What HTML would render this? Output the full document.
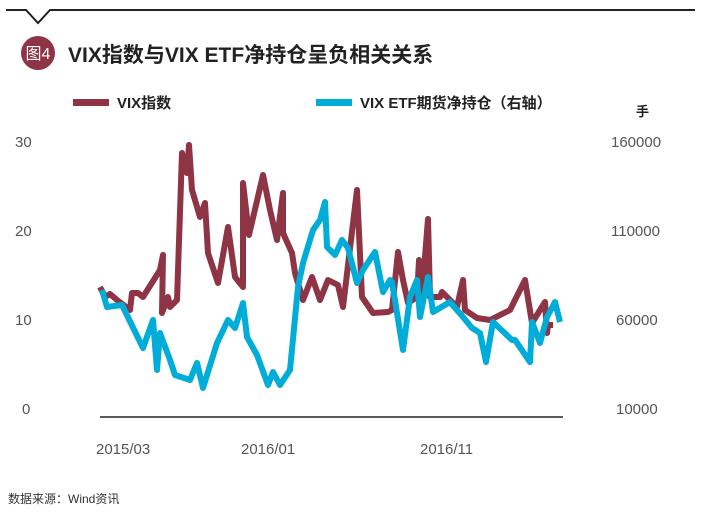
<!DOCTYPE html>
<html><head><meta charset="utf-8"><style>
body{margin:0;background:#fff;width:702px;height:515px;overflow:hidden;font-family:"Liberation Sans","Noto Sans CJK SC",sans-serif;}
</style></head><body>
<svg width="702" height="515" xmlns="http://www.w3.org/2000/svg" font-family="Liberation Sans, Noto Sans CJK SC, sans-serif">
<polyline points="6,10 26,10 38,23 50,10 695,10" fill="none" stroke="#222" stroke-width="2"/>
<circle cx="38" cy="53" r="17" fill="#8e3445"/>
<text x="38" y="59" font-size="16" fill="#fff" text-anchor="middle">图4</text>
<text x="68" y="62" font-size="21" font-weight="bold" fill="#222">VIX指数与VIX ETF净持仓呈负相关关系</text>
<rect x="73" y="99" width="36" height="7" fill="#8e3445"/>
<text x="117" y="108" font-size="15" font-weight="bold" fill="#222">VIX指数</text>
<rect x="316" y="99" width="36" height="7" fill="#00acd8"/>
<text x="360" y="108" font-size="15" font-weight="bold" fill="#222">VIX ETF期货净持仓（右轴）</text>
<text x="636" y="116" font-size="13" font-weight="bold" fill="#222">手</text>
<g font-size="15" fill="#555">
<text x="15" y="147">30</text><text x="15" y="236">20</text><text x="15" y="325">10</text><text x="22" y="414">0</text>
<text x="611" y="147">160000</text><text x="611" y="236">110000</text><text x="616" y="325">60000</text><text x="616" y="414">10000</text>
<text x="96" y="454">2015/03</text><text x="241" y="454">2016/01</text><text x="420" y="454">2016/11</text>
</g>
<line x1="100" y1="417" x2="563" y2="417" stroke="#222" stroke-width="1.5"/>
<polyline fill="none" stroke="#8e3445" stroke-width="6" stroke-linejoin="round" points="100,287 105,297 110,294 117,300 130,310 132,293 138,293 143,297 160,270 163,255 162,313 168,297 170,307 177,300 182,153 187,173 189,145 192,190 200,217 205,203 208,253 218,283 228,227 235,277 243,287 243,183 249,235 263,175 270,210 277,240 283,193 283,233 292,253 295,273 303,300 312,277 320,300 328,280 338,285 343,307 357,190 362,297 373,313 388,312 392,310 398,252 403,280 408,303 417,297 419,260 421,307 428,219 430,297 440,297 442,292 457,307 463,280 465,310 477,318 490,320 510,310 525,280 532,323 545,302 547,333 548,325 553,325"/>
<polyline fill="none" stroke="#00acd8" stroke-width="6" stroke-linejoin="round" points="102,290 107,307 122,305 143,348 153,320 157,370 160,333 170,360 175,375 190,380 197,363 203,388 217,343 228,320 235,328 243,303 247,337 257,355 268,385 273,372 280,385 290,370 298,287 303,263 313,230 320,220 325,202 327,247 335,255 342,240 348,248 357,283 363,270 375,252 383,292 390,280 392,282 403,350 410,297 417,280 420,317 428,277 433,312 450,302 463,317 472,328 480,333 486,362 493,322 512,340 515,340 530,362 532,322 540,343 547,317 555,302 560,322"/>
<text x="8" y="503" font-size="12" fill="#333">数据来源：Wind资讯</text>
</svg>
</body></html>
